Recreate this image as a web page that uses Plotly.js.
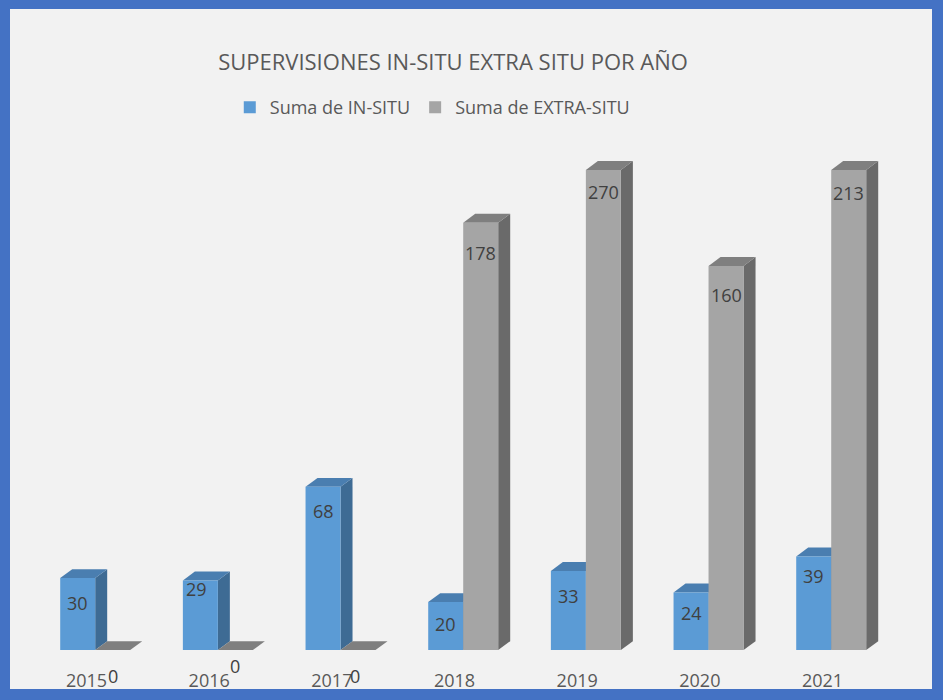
<!DOCTYPE html>
<html><head><meta charset="utf-8">
<script src="https://cdn.plot.ly/plotly-3.0.1.min.js"></script>
<style>
html,body{margin:0;padding:0;background:#4472c4;width:943px;height:700px;overflow:hidden}
#chart{position:absolute;left:10px;top:9px;width:922px;height:680px;}
</style></head><body><div id="chart"></div>
<script>
// ---- data ----
const years = ['2015','2016','2017','2018','2019','2020','2021'];
const inSitu = [30, 29, 68, 20, 33, 24, 39];
const extraSitu = [0, 0, 0, 178, 270, 160, 213];
const seriesNames = ['Suma de IN-SITU', 'Suma de EXTRA-SITU'];
const AXIS_MAX = 200; // value axis maximum of the original chart (taller bars are cut there)

// ---- styling / geometry ----
const W = 0.2853;             // bar width (category units)
const OFF = [-0.2144, 0.0709]; // bar offsets
const DX = 0.0978, DY = 3.706; // 3-D depth offset
const FRONT = ['#5b9bd5', '#a5a5a5'];
const TOP = ['#4a7eb0', '#7f7f7f'];
const SIDE = ['#3e6b94', '#6a6a6a'];
const LABEL_YSHIFT = [[-25,-9,-24,-22,-25,-21,-20],[-26,-16,-26,-30,-22,-29,-23]];
const LABEL_XSHIFT = [[0,-4,0,0,0,0,0],[0,0,-3,0,0,0,0]];
const FONT = 'Open Sans, sans-serif';

const xs = years.map((_, i) => i);
const series = [inSitu, extraSitu];
const shown = series.map(s => s.map(v => Math.min(v, AXIS_MAX)));

const traces = series.map((s, k) => ({
  type: 'bar', name: seriesNames[k], x: xs, y: shown[k],
  offset: OFF[k], width: W,
  marker: {color: FRONT[k], line: {width: 0}},
  hoverinfo: 'skip'
}));

const shapes = [];
const annotations = [];
xs.forEach((x, i) => {
  for (let k = 0; k < 2; k++) {
    const h = shown[k][i];
    const l = x + OFF[k], r = l + W;
    shapes.push({type: 'path', xref: 'x', yref: 'y', layer: 'below', line: {width: 0}, fillcolor: SIDE[k],
      path: `M${r},0 L${r},${h} L${r+DX},${h+DY} L${r+DX},${DY} Z`});
    shapes.push({type: 'path', xref: 'x', yref: 'y', layer: 'below', line: {width: 0}, fillcolor: TOP[k],
      path: `M${l},${h} L${r},${h} L${r+DX},${h+DY} L${l+DX},${h+DY} Z`});
    annotations.push({x: l + W/2, y: h, xref: 'x', yref: 'y', text: String(series[k][i]), showarrow: false,
      yshift: LABEL_YSHIFT[k][i], xshift: LABEL_XSHIFT[k][i], yanchor: 'middle', xanchor: 'center',
      font: {family: FONT, size: 18, color: '#404040'}});
  }
});

const layout = {
  width: 922, height: 680,
  margin: {l: 10, r: 10, t: 111, b: 29},
  paper_bgcolor: '#f2f2f2', plot_bgcolor: 'rgba(0,0,0,0)',
  barmode: 'overlay',
  title: {text: 'SUPERVISIONES IN-SITU EXTRA SITU POR AÑO', xref: 'container', yref: 'container',
    x: 0.4805, y: 0.922, xanchor: 'center', yanchor: 'middle',
    font: {family: FONT, size: 22, color: '#595959'}},
  showlegend: true,
  legend: {orientation: 'h', xref: 'container', yref: 'container', x: 0.458, y: 0.855,
    xanchor: 'center', yanchor: 'middle', font: {family: FONT, size: 18, color: '#595959'},
    bgcolor: 'rgba(0,0,0,0)', traceorder: 'normal'},
  xaxis: {range: [-0.5421, 6.811], tickvals: xs, ticktext: years, showgrid: false, zeroline: false,
    showline: false, ticks: '', ticklabelstandoff: 8,
    tickfont: {family: FONT, size: 18, color: '#595959'}, fixedrange: true},
  yaxis: {range: [-4.118, 218.24], visible: false, showgrid: false, zeroline: false, fixedrange: true},
  shapes: shapes, annotations: annotations
};
Plotly.newPlot('chart', traces, layout, {displayModeBar: false, staticPlot: true});
</script></body></html>
